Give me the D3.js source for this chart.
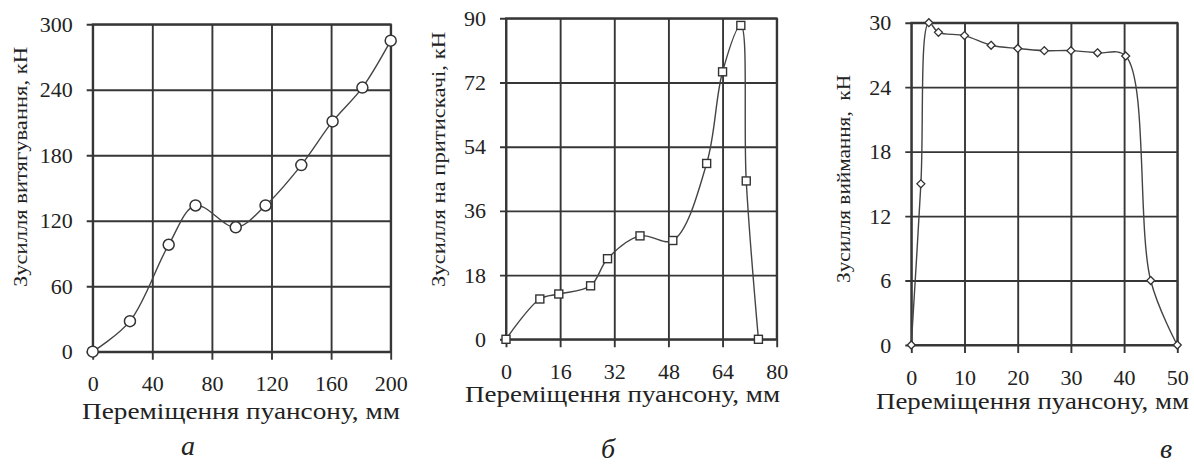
<!DOCTYPE html>
<html>
<head>
<meta charset="utf-8">
<script src="https://cdn.jsdelivr.net/npm/d3@7"></script>
<style>
  body { margin: 0; background: #fff; }
  text { font-family: "Liberation Serif", "Times New Roman", serif; fill: #222; }
</style>
</head>
<body>
<svg id="chart" width="1194" height="466"></svg>
<script>
// panel a - drawing force
var xA = [0, 25, 51, 69, 96, 116, 140, 161, 181, 200];
var yA = [0, 28, 98, 134, 114, 134, 171, 211, 242, 285];
var xTicksA = [0, 40, 80, 120, 160, 200];
var yTicksA = [0, 60, 120, 180, 240, 300];

// panel b - blank holder force
var xB = [0, 10, 15.6, 25, 30, 39.6, 49.3, 59.3, 64, 69.4, 71, 74.6];
var yB = [0, 11.3, 12.7, 15, 22.6, 29, 27.7, 49.3, 75, 88, 44.4, 0];
var xTicksB = [0, 16, 32, 48, 64, 80];
var yTicksB = [0, 18, 36, 54, 72, 90];

// panel c - stripping force
var xC = [0, 1.8, 3.3, 5.1, 10, 15, 20, 25, 30, 35, 40.3, 45, 50];
var yC = [0, 15, 30, 29.1, 28.8, 27.9, 27.6, 27.4, 27.4, 27.2, 26.9, 6, 0];
var xTicksC = [0, 10, 20, 30, 40, 50];
var yTicksC = [0, 6, 12, 18, 24, 30];

var xTitle = "Переміщення пуансону, мм";
var yTitles = ["Зусилля витягування, кН", "Зусилля на притискачі, кН", "Зусилля виймання,  кН"];
var letters = ["а", "б", "в"];

var serif = '"Liberation Serif", "Times New Roman", serif';
var svg = d3.select("#chart");

var panels = [
    { xs: xA, ys: yA, xt: xTicksA, yt: yTicksA, marker: "circle",
      left: 92.7, right: 390.7, top: 24.3, bottom: 351.7,
      yl: { x: 27, y: 287, len: 240 }, xl: { x: 82, y: 419, len: 318 }, let: { x: 188, y: 455 } },
    { xs: xB, ys: yB, xt: xTicksB, yt: yTicksB, marker: "square",
      left: 506, right: 776.7, top: 18.3, bottom: 339.3,
      yl: { x: 445, y: 287, len: 255 }, xl: { x: 465, y: 402, len: 315 }, let: { x: 608, y: 458 } },
    { xs: xC, ys: yC, xt: xTicksC, yt: yTicksC, marker: "diamond",
      left: 911.3, right: 1177.3, top: 22.7, bottom: 345,
      yl: { x: 850, y: 283, len: 208 }, xl: { x: 876, y: 409, len: 313 }, let: { x: 1166, y: 458 } }
];

panels.forEach(function(p, i){
    var w = p.right - p.left, h = p.bottom - p.top;
    var x = d3.scaleLinear().domain(d3.extent(p.xt)).range([0, w]);
    var y = d3.scaleLinear().domain(d3.extent(p.yt)).range([h, 0]);
    var g = svg.append("g").attr("transform", "translate(" + p.left + "," + p.top + ")");

    // grid + outer ticks
    var gy = g.append("g").attr("transform", "translate(-6,0)")
        .call(d3.axisLeft(y).tickValues(p.yt).tickSizeInner(-(w + 6)).tickSizeOuter(0).tickPadding(14));
    var gx = g.append("g").attr("transform", "translate(0," + (h + 8) + ")")
        .call(d3.axisBottom(x).tickValues(p.xt).tickSizeInner(-(h + 8)).tickSizeOuter(0).tickPadding(16));
    [gy, gx].forEach(function(a){
        a.attr("font-family", serif);
        a.select(".domain").remove();
        a.selectAll("line").attr("stroke", "#363636").attr("stroke-width", 1.9);
        a.selectAll("text").attr("font-size", 22).style("fill", "#222");
    });

    g.append("rect").attr("width", w).attr("height", h)
        .attr("fill", "none").attr("stroke", "#363636").attr("stroke-width", 1.9);

    var pts = p.xs.map(function(d, k){ return [x(d), y(p.ys[k])]; });
    var line = d3.line().curve(d3.curveCatmullRom.alpha(0.5));
    g.append("path").attr("d", line(pts))
        .attr("fill", "none").attr("stroke", "#444").attr("stroke-width", 1.4);

    var m = g.selectAll(".m").data(pts).enter();
    if (p.marker == "circle") {
        m.append("circle").attr("cx", function(d){ return d[0]; }).attr("cy", function(d){ return d[1]; })
            .attr("r", 5.5).attr("fill", "#fff").attr("stroke", "#333").attr("stroke-width", 1.5);
    } else if (p.marker == "square") {
        m.append("rect").attr("x", function(d){ return d[0] - 4; }).attr("y", function(d){ return d[1] - 4; })
            .attr("width", 8).attr("height", 8).attr("fill", "#fff").attr("stroke", "#333").attr("stroke-width", 1.4);
    } else {
        m.append("path").attr("d", d3.symbol(d3.symbolDiamond2, 40))
            .attr("transform", function(d){ return "translate(" + d[0] + "," + d[1] + ")"; })
            .attr("fill", "#fff").attr("stroke", "#333").attr("stroke-width", 1.3);
    }

    svg.append("text")
        .attr("transform", "translate(" + p.yl.x + "," + p.yl.y + ") rotate(-90)")
        .attr("font-family", serif)
        .attr("font-size", 18).attr("textLength", p.yl.len).attr("lengthAdjust", "spacingAndGlyphs")
        .style("white-space", "pre")
        .text(yTitles[i]);

    svg.append("text").attr("x", p.xl.x).attr("y", p.xl.y)
        .attr("font-family", serif)
        .attr("font-size", 23).attr("textLength", p.xl.len).attr("lengthAdjust", "spacingAndGlyphs")
        .text(xTitle);

    svg.append("text").attr("x", p.let.x).attr("y", p.let.y)
        .attr("font-family", serif)
        .attr("text-anchor", "middle").attr("font-size", 28).attr("font-style", "italic")
        .text(letters[i]);
});
</script>
</body>
</html>
